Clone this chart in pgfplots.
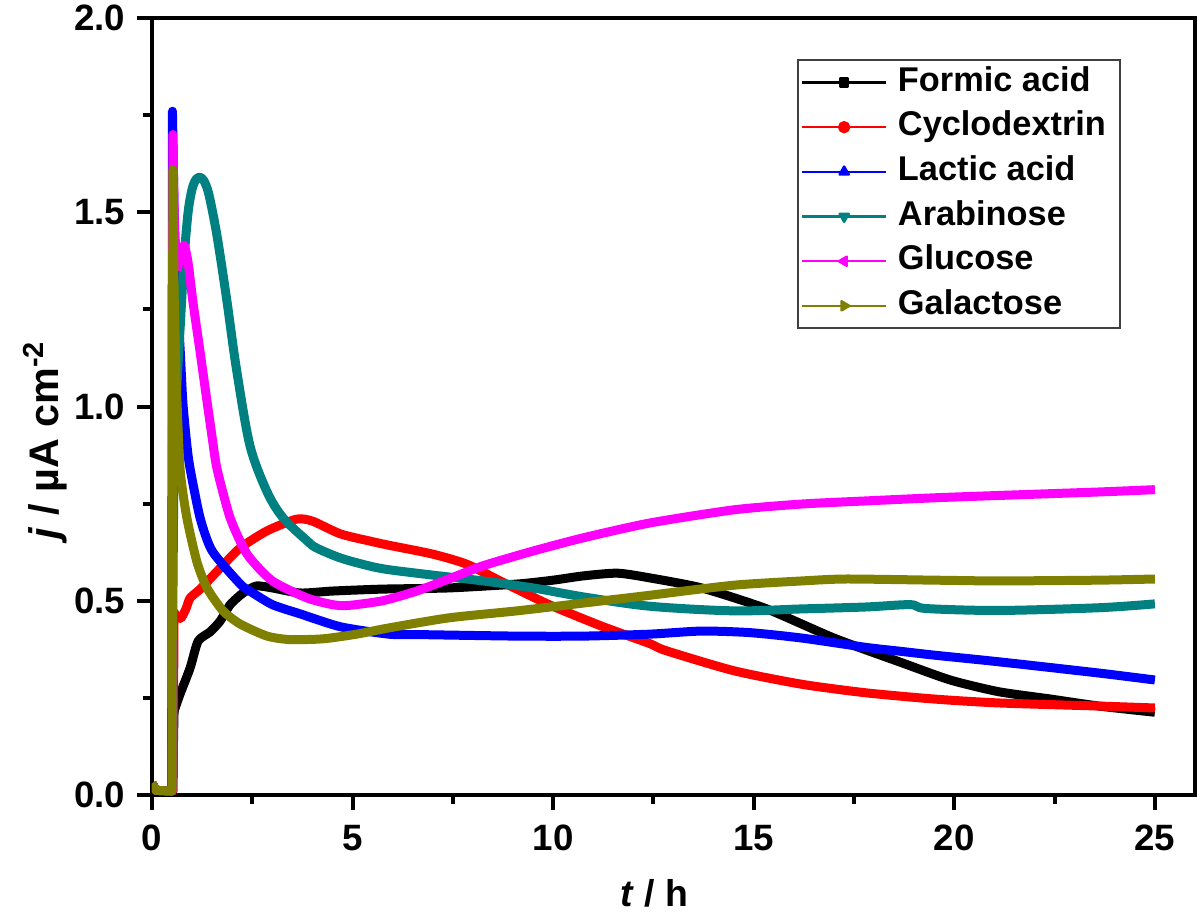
\documentclass[border=0pt]{standalone}
\usepackage{fontspec}
\setmainfont{Liberation Sans}
\usepackage{pgfplots}
\pgfplotsset{compat=1.18}
\definecolor{cteal}{RGB}{0,128,128}
\definecolor{colive}{RGB}{128,128,0}
\definecolor{cmag}{RGB}{255,0,255}
\definecolor{cred}{RGB}{255,0,0}
\definecolor{cblue}{RGB}{0,0,255}
\begin{document}
\begin{tikzpicture}
\useasboundingbox (-45.6pt,-35.7pt) rectangle (314.4pt,238.5pt);
\begin{axis}[
  at={(0,0)}, anchor=south west,
  scale only axis, width=312.9pt, height=233.1pt,
  xmin=0, xmax=26, ymin=0, ymax=2,
  xtick={0,5,10,15,20,25}, minor x tick num=1,
  ytick={0,0.5,1,1.5,2}, minor y tick num=1,
  xtick pos=left, ytick pos=left,
  tick align=outside,
  major tick length=4.5pt, minor tick length=2.6pt,
  tick style={black, line width=1.2pt},
  axis line style={line width=1.1pt},
  /pgf/number format/assume math mode=true,
  ticklabel style={font=\bfseries\fontsize{11}{12}\selectfont},
  yticklabel style={/pgf/number format/.cd, fixed, fixed zerofill, precision=1},
  xticklabel style={yshift=-1pt, /pgf/number format/.cd, fixed, precision=0},
  xlabel={\textit{t} / h},
  ylabel={\textit{j} / µA cm\textsuperscript{-2}},
  xlabel style={at={(axis description cs:0.482,-0.126)}, anchor=center, font=\bfseries\fontsize{11.2}{13}\selectfont},
  ylabel style={at={(axis description cs:-0.1026,0.457)}, anchor=center, font=\bfseries\fontsize{12.4}{14}\selectfont},
  legend style={at={(rel axis cs:0.6184,0.947)}, anchor=north west,
    draw=black!75, line width=0.6pt, fill=white,
    font=\bfseries\fontsize{10.3}{12}\selectfont,
    inner xsep=1pt, inner ysep=0pt, row sep=0pt,
    nodes={text height=7.5pt, text depth=2.3pt, inner ysep=1.8pt, inner xsep=3.3pt}},
  legend cell align=left,
  legend image code/.code={\draw[mark repeat=2,mark phase=2] plot coordinates {(0pt,0pt) (12.5pt,0pt) (25pt,0pt)};},
  every axis plot/.append style={line width=2.7pt, line join=round},
]
% Formic acid
\addplot[black, mark=none, forget plot] coordinates {
(0,0.03) (0.1,0.012) (0.5,0.01) (0.52,0.01) (0.53,0.105) (0.55,0.216)};
\addplot[black, mark=none, smooth, tension=0.4, forget plot] coordinates {
(0.55,0.216) (0.7,0.26)
(0.95,0.327) (1.15,0.396) (1.45,0.42) (1.7,0.448) (1.95,0.49) (2.27,0.52) (2.6,0.538)
(3.0,0.533) (3.7,0.52) (4.5,0.525) (5.75,0.53) (7.4,0.533) (9.1,0.543) (10.0,0.553)
(10.75,0.564) (11.6,0.571) (12.4,0.559) (13.7,0.533) (15.3,0.48) (17.0,0.404)
(18.65,0.342) (19.9,0.296) (21.1,0.266) (22.4,0.247) (23.6,0.229) (25.0,0.213)};
% Cyclodextrin
\addplot[cred, mark=none, forget plot] coordinates {
(0,0.03) (0.1,0.012) (0.52,0.01) (0.53,0.1) (0.55,0.47) (0.62,0.46)};
\addplot[cred, mark=none, smooth, tension=0.4, forget plot] coordinates {
(0.62,0.46) (0.72,0.455)
(0.85,0.48) (0.95,0.507) (1.2,0.53) (1.7,0.584) (2.2,0.636) (2.87,0.68) (3.6,0.71)
(4.0,0.705) (4.7,0.672) (5.5,0.652) (5.9,0.643) (7.0,0.62) (7.85,0.594) (8.7,0.55)
(9.9,0.49) (11.2,0.435) (12.4,0.39) (12.8,0.372) (14.5,0.32) (16.2,0.285) (17.8,0.263)
(19.5,0.247) (21.1,0.237) (23.6,0.229) (25.0,0.224)};
% Lactic acid
\addplot[cblue, mark=none, forget plot] coordinates {
(0,0.03) (0.1,0.012) (0.49,0.01) (0.51,1.76) (0.55,1.5)};
\addplot[cblue, mark=none, smooth, tension=0.4, forget plot] coordinates {
(0.55,1.5) (0.62,1.3) (0.7,1.15)
(0.77,1.01) (0.87,0.9) (0.95,0.84) (1.2,0.713) (1.5,0.628) (2.2,0.543) (2.44,0.525)
(3.0,0.49) (3.7,0.466) (4.7,0.433) (5.9,0.414) (6.6,0.413) (9.1,0.409) (10.75,0.409)
(12.4,0.414) (13.7,0.422) (14.9,0.418) (16.2,0.404) (17.8,0.38) (18.65,0.37)
(19.5,0.36) (21.1,0.343) (23.6,0.314) (25.0,0.296)};
% Arabinose
\addplot[cteal, mark=none, forget plot] coordinates {
(0,0.03) (0.1,0.012) (0.5,0.01) (0.52,0.49) (0.55,0.9)};
\addplot[cteal, mark=none, smooth, tension=0.5, forget plot] coordinates {
(0.55,0.9) (0.62,1.05) (0.7,1.2)
(0.8,1.38) (0.9,1.5) (1.0,1.56) (1.1,1.585) (1.2,1.59) (1.3,1.58) (1.42,1.545) (1.62,1.44) (1.87,1.27)
(2.1,1.10) (2.44,0.90) (2.87,0.78) (3.27,0.713) (3.87,0.654) (4.1,0.636)
(4.7,0.61) (5.4,0.59) (5.9,0.58) (7.0,0.566) (8.25,0.551) (9.5,0.533) (10.75,0.51)
(12.4,0.486) (14.5,0.474) (16.2,0.479) (17.8,0.484)
(18.9,0.49) (19.3,0.48) (21.1,0.475) (23.6,0.482) (25.0,0.492)};
% Glucose
\addplot[cmag, mark=none, forget plot] coordinates {
(0,0.03) (0.1,0.012) (0.5,0.01) (0.52,1.70) (0.56,1.45) (0.62,1.35)};
\addplot[cmag, mark=none, smooth, tension=0.4, forget plot] coordinates {
(0.62,1.35) (0.7,1.38)
(0.8,1.415) (0.9,1.37) (1.02,1.27) (1.2,1.14) (1.37,1.014) (1.5,0.92) (1.62,0.84)
(1.95,0.713) (2.37,0.62) (3.0,0.551) (3.87,0.507) (4.5,0.49) (4.9,0.488) (5.75,0.50)
(6.6,0.525) (7.4,0.556) (8.25,0.59) (9.5,0.628) (10.75,0.662)
(12.4,0.70) (14.5,0.734) (16.2,0.749) (17.8,0.757) (19.5,0.765)
(21.1,0.771) (23.6,0.78) (25.0,0.786)};
% Galactose
\addplot[colive, mark=none, forget plot] coordinates {
(0,0.03) (0.1,0.012) (0.5,0.01) (0.52,1.61) (0.55,1.3)};
\addplot[colive, mark=none, smooth, tension=0.4, forget plot] coordinates {
(0.55,1.3) (0.6,1.08) (0.7,0.84)
(0.87,0.713) (1.12,0.60) (1.37,0.533) (1.77,0.474) (2.2,0.44) (2.87,0.409)
(3.44,0.40) (4.26,0.402) (5.1,0.414) (5.9,0.43) (7.4,0.456) (9.1,0.474)
(10.75,0.494) (12.4,0.514) (14.5,0.54) (16.2,0.551) (17.3,0.556) (19.5,0.553)
(21.1,0.551) (23.6,0.553) (25.0,0.556)};
\addlegendimage{black, line width=0.7pt, mark=square*, mark size=1.2pt}
\addlegendentry{Formic acid}
\addlegendimage{cred, line width=0.7pt, mark=*, mark size=1.5pt}
\addlegendentry{Cyclodextrin}
\addlegendimage{cblue, line width=0.7pt, mark=triangle*, mark size=1.6pt}
\addlegendentry{Lactic acid}
\addlegendimage{cteal, line width=0.7pt, mark=triangle*, mark size=1.6pt, mark options={rotate=180}}
\addlegendentry{Arabinose}
\addlegendimage{cmag, line width=0.7pt, mark=triangle*, mark size=1.6pt, mark options={rotate=90}}
\addlegendentry{Glucose}
\addlegendimage{colive, line width=0.7pt, mark=triangle*, mark size=1.6pt, mark options={rotate=-90}}
\addlegendentry{Galactose}
\end{axis}
\end{tikzpicture}
\end{document}
